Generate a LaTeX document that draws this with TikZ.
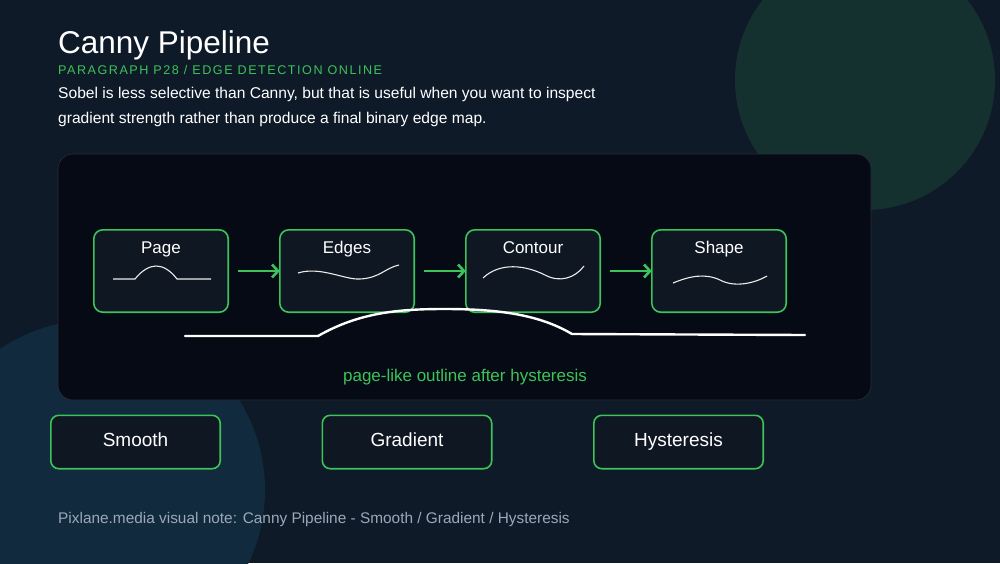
\documentclass[tikz,border=0pt]{standalone}
\usepackage{fontspec}
\setmainfont{Liberation Sans}
\usetikzlibrary{positioning,arrows.meta}
\definecolor{bgcol}{HTML}{0F1A28}
\definecolor{panelcol}{HTML}{050A15}
\definecolor{boxcol}{HTML}{0F1722}
\definecolor{accent}{HTML}{3CC35A}
\definecolor{blobA}{HTML}{14302F}
\definecolor{blobB}{HTML}{122A3E}
\definecolor{notecol}{HTML}{9AA8B8}
\tikzset{
  stage/.style={draw=accent, line width=1.6pt, fill=boxcol, rounded corners=9pt,
    minimum width=134.4pt, minimum height=82.4pt, inner sep=0pt, outer sep=0pt},
  phase/.style={draw=accent, line width=1.6pt, fill=boxcol, rounded corners=8pt,
    minimum width=169.4pt, minimum height=53.4pt, text=white, font=\fontsize{19}{21}\selectfont,
    text height=13.5pt, text depth=4pt},
  flow/.style={draw=accent, line width=2.6pt, -{Straight Barb[length=6pt,width=13pt]}},
  trace/.style={draw=white!85!gray, line width=1.1pt},
}
\begin{document}
\begin{tikzpicture}[x=1pt,y=-1pt]
% background
\fill[bgcol] (0,0) rectangle (1000,563);
\useasboundingbox (0,0) rectangle (1000,563);
\fill[blobA] (865,80) circle (130);
\fill[blobB] (95,490) circle (170);

% heading
\node[anchor=west, text=white, font=\fontsize{31.5}{33}\selectfont, inner sep=0pt] (title) at (58,45) {Canny Pipeline};
\node[anchor=west, text=accent, font=\fontsize{12.6}{14}\selectfont, inner sep=0pt] (sub) at (58,70) {\addfontfeature{LetterSpace=12}PARAGRAPH P28 / EDGE DETECTION ONLINE};
\node[anchor=north west, text=white, font=\fontsize{15.6}{25}\selectfont, align=left, inner sep=0pt] (lead) at (58,87)
  {Sobel is less selective than Canny, but that is useful when you want to inspect\\gradient strength rather than produce a final binary edge map.};

% panel
\draw[panelcol!70!gray, fill=panelcol, rounded corners=15pt, line width=0.6pt] (58,154) rectangle (871,400);

% stages
\node[stage] (page) at (161,271) {};
\node[stage, right=51.6pt of page] (edges) {};
\node[stage, right=51.6pt of edges] (contour) {};
\node[stage, right=51.6pt of contour] (shape) {};
\foreach \n/\t in {page/Page, edges/Edges, contour/Contour, shape/Shape}
  \node[text=white, font=\fontsize{17}{19}\selectfont, below=8pt of \n.north] {\t};

\draw[flow] ([xshift=10pt]page.east) -- (edges.west);
\draw[flow] ([xshift=10pt]edges.east) -- (contour.west);
\draw[flow] ([xshift=10pt]contour.east) -- (shape.west);

% sketches inside the stages
\draw[trace] (113,279) -- (135,279) .. controls (142,270) and (150,266) .. (156,266) .. controls (163,266) and (170,270) .. (177,279) -- (211,279);
\draw[trace] (298,273) .. controls (320,266) and (345,280) .. (360,279) .. controls (380,278) and (385,268) .. (399,265);
\draw[trace] (483,278) .. controls (500,262) and (525,265) .. (545,275) .. controls (560,283) and (575,278) .. (584,266);
\draw[trace] (673,283) .. controls (690,276) and (705,273) .. (720,280) .. controls (735,288) and (755,283) .. (767,276);

% outline
\draw[white, line width=2.4pt, line cap=round] (185,336) -- (318,336) .. controls (360,312) and (400,309) .. (445,309) .. controls (500,309) and (540,315) .. (572,334) -- (805,335);
\node[text=accent, font=\fontsize{17}{19}\selectfont] (note) at (465,377) {page-like outline after hysteresis};

% phases
\node[phase] (smooth) at (135.5,442) {Smooth};
\node[phase] (grad) at (407,442) {Gradient};
\node[phase] (hyst) at (678.5,442) {Hysteresis};

\node[anchor=west, text=notecol, font=\fontsize{15.4}{17}\selectfont, inner sep=0pt] (foot) at (58,520) {Pixlane.media visual note: Canny Pipeline - Smooth / Gradient / Hysteresis};
\end{tikzpicture}
\end{document}
